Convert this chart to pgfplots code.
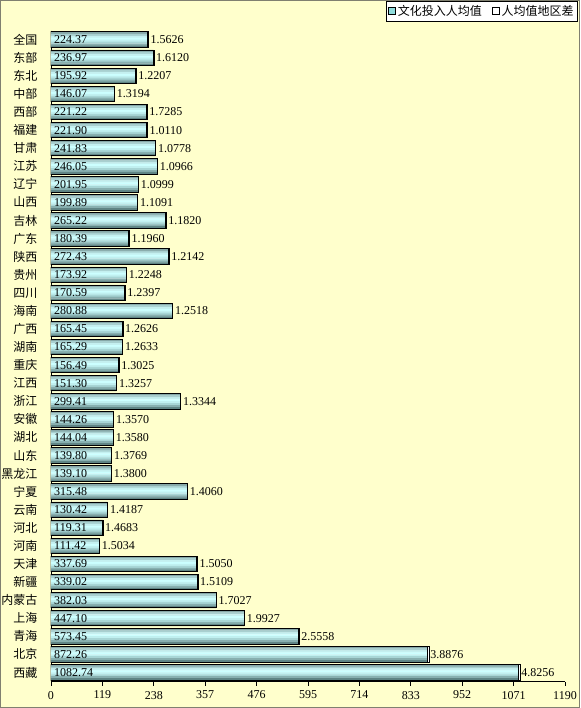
\documentclass[border=0pt]{standalone}
\usepackage{fontspec}
\setmainfont{Liberation Serif}
\newfontfamily\cjk{Noto Sans CJK SC}
\usepackage{pgfplots}
\pgfplotsset{compat=1.18}
\usepackage{pgfplotstable}

\definecolor{bg}{HTML}{FFFFCC}
\definecolor{framec}{HTML}{808070}
\definecolor{legcyan}{HTML}{8FDCDC}
% bands of the bar gradient, top to bottom
\definecolor{band0}{HTML}{86A8A8}
\definecolor{band1}{HTML}{A8D0D0}
\definecolor{band2}{HTML}{C4F0F0}
\definecolor{band3}{HTML}{CCFFFF}
\definecolor{band4}{HTML}{C0F0F0}
\definecolor{band5}{HTML}{A8D6D6}
\definecolor{band6}{HTML}{88B0B0}
\definecolor{band7}{HTML}{608585}

% idx, region, culture input per capita, regional difference of per capita value
\pgfplotstableread{
idx name val diff
0 全国 224.37 1.5626
1 东部 236.97 1.6120
2 东北 195.92 1.2207
3 中部 146.07 1.3194
4 西部 221.22 1.7285
5 福建 221.90 1.0110
6 甘肃 241.83 1.0778
7 江苏 246.05 1.0966
8 辽宁 201.95 1.0999
9 山西 199.89 1.1091
10 吉林 265.22 1.1820
11 广东 180.39 1.1960
12 陕西 272.43 1.2142
13 贵州 173.92 1.2248
14 四川 170.59 1.2397
15 海南 280.88 1.2518
16 广西 165.45 1.2626
17 湖南 165.29 1.2633
18 重庆 156.49 1.3025
19 江西 151.30 1.3257
20 浙江 299.41 1.3344
21 安徽 144.26 1.3570
22 湖北 144.04 1.3580
23 山东 139.80 1.3769
24 黑龙江 139.10 1.3800
25 宁夏 315.48 1.4060
26 云南 130.42 1.4187
27 河北 119.31 1.4683
28 河南 111.42 1.5034
29 天津 337.69 1.5050
30 新疆 339.02 1.5109
31 内蒙古 382.03 1.7027
32 上海 447.10 1.9927
33 青海 573.45 2.5558
34 北京 872.26 3.8876
35 西藏 1082.74 4.8256
}\data

\pgfplotsset{band/.style={xbar, bar width=2.15pt, draw=none, forget plot}}

\begin{document}
\begin{tikzpicture}[x=1pt,y=1pt]
\useasboundingbox (0,0) rectangle (580,708);
\fill[bg] (0,0) rectangle (580,708);
\draw[framec, line width=1pt] (0.5,0.5) rectangle (579.5,707.5);
\begin{axis}[
    at={(51pt,26.5pt)}, anchor=south west,
    scale only axis,
    width=514pt, height=650.8pt,
    xmin=0, xmax=1190,
    ymin=-0.5, ymax=35.5,
    y dir=reverse,
    enlargelimits=false,
    axis x line*=bottom, axis y line*=left,
    axis line style={black, line width=0.8pt, -},
    xtick={0,119,238,357,476,595,714,833,952,1071,1190},
    tick align=outside,
    major tick length=4pt,
    xtick style={black, line width=0.8pt},
    ytick={0,...,35},
    yticklabels from table={\data}{name},
    ytick style={draw=none},
    yticklabel style={font=\cjk\fontsize{12}{12}\selectfont, xshift=-6pt},
    xticklabel style={font=\fontsize{12}{12}\selectfont, yshift=-2pt,
        /pgf/number format/1000 sep={}},
    /pgf/number format/assume math mode=true,
    scaled x ticks=false,
    legend columns=2,
    reverse legend,
    legend style={at={(1.0253,1.0456)}, anchor=north east,
        draw=black, fill=white, line width=0.8pt,
        font=\cjk\fontsize{12}{12}\selectfont,
        inner xsep=2pt, inner ysep=2pt,
        /tikz/every even column/.append style={column sep=8pt}},
    legend image code/.code={\draw[#1, line width=0.8pt] (0pt,-3.5pt) rectangle (7pt,3.5pt);},
]
% regional difference, stacked on the end of each bar
\addplot[xbar, bar width=15.5pt, bar shift=0pt, draw=black, line width=1pt, fill=white]
    table[x expr=\thisrow{val}+\thisrow{diff}, y=idx] {\data};
\addlegendentry{人均值地区差}
% culture input per capita: gradient drawn as bands
\addplot[band, bar shift=6.78pt, fill=band0] table[x=val, y=idx] {\data};
\addplot[band, bar shift=4.84pt, fill=band1] table[x=val, y=idx] {\data};
\addplot[band, bar shift=2.91pt, fill=band2] table[x=val, y=idx] {\data};
\addplot[band, bar shift=0.97pt, fill=band3] table[x=val, y=idx] {\data};
\addplot[band, bar shift=-0.97pt, fill=band4] table[x=val, y=idx] {\data};
\addplot[band, bar shift=-2.91pt, fill=band5] table[x=val, y=idx] {\data};
\addplot[band, bar shift=-4.84pt, fill=band6] table[x=val, y=idx] {\data};
\addplot[band, bar shift=-6.78pt, fill=band7] table[x=val, y=idx] {\data};
\addplot[xbar, bar width=15.5pt, bar shift=0pt, draw=black, line width=1pt, fill=none,
    legend image code/.code={\draw[black, fill=legcyan, line width=0.8pt] (0pt,-3.5pt) rectangle (7pt,3.5pt);}]
    table[x=val, y=idx] {\data};
\addlegendentry{文化投入人均值}
% labels inside the bars
\addplot[draw=none, mark=none, forget plot,
    point meta=explicit symbolic, nodes near coords,
    every node near coord/.append style={anchor=west, font=\fontsize{12}{12}\selectfont, inner xsep=3pt}]
    table[x expr=0, y=idx, meta=val] {\data};
% labels at the bar ends
\addplot[draw=none, mark=none, forget plot,
    point meta=explicit symbolic, nodes near coords,
    every node near coord/.append style={anchor=west, font=\fontsize{12}{12}\selectfont, inner xsep=2.5pt}]
    table[x=val, y=idx, meta=diff] {\data};
\end{axis}
\end{tikzpicture}
\end{document}
